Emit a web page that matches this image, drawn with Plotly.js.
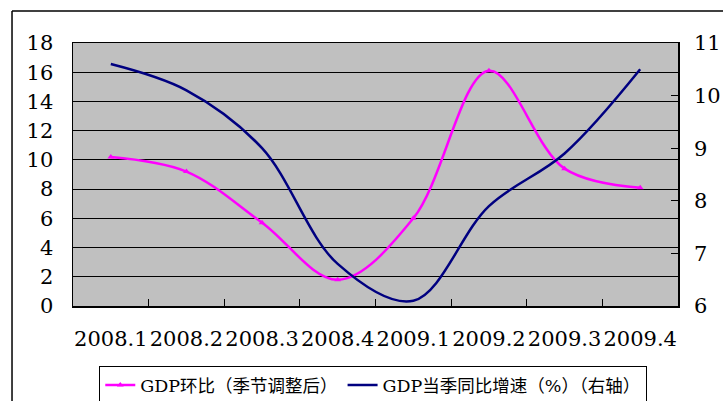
<!DOCTYPE html>
<html>
<head>
<meta charset="utf-8">
<script src="https://cdn.plot.ly/plotly-3.0.1.min.js"></script>
<style>
html,body{margin:0;padding:0;background:#fff;}
#chart{width:723px;height:401px;}
</style>
</head>
<body>
<div id="chart"></div>
<script>
const categories = ['2008.1','2008.2','2008.3','2008.4','2009.1','2009.2','2009.3','2009.4'];
const gdpQoQ = [10.2, 9.2, 5.7, 1.8, 6.0, 16.1, 9.4, 8.1];
const gdpYoY = [10.6, 10.1, 9.0, 6.8, 6.1, 7.9, 8.9, 10.5];
const leftTicks = [0,2,4,6,8,10,12,14,16,18];
const rightTicks = [6,7,8,9,10,11];
const seriesNames = ['GDP环比（季节调整后）', 'GDP当季同比增速（%）（右轴）'];

const serif = "DejaVu Serif, Noto Sans CJK SC";

const traces = [
  {
    x: categories, y: gdpQoQ, name: seriesNames[0], type: 'scatter', mode: 'lines+markers',
    line: {color: '#FF00FF', width: 2.5, shape: 'spline', smoothing: 1},
    marker: {symbol: 'triangle-up', size: 6, color: '#FF00FF'},
    yaxis: 'y'
  },
  {
    x: categories, y: gdpYoY, name: seriesNames[1], type: 'scatter', mode: 'lines',
    line: {color: '#000080', width: 2.5, shape: 'spline', smoothing: 1},
    yaxis: 'y2'
  }
];

const layout = {
  width: 723, height: 401,
  margin: {l: 73, r: 45, t: 43, b: 95},
  paper_bgcolor: '#ffffff',
  plot_bgcolor: '#C0C0C0',
  font: {family: serif, color: '#000000'},
  showlegend: true,
  xaxis: {
    type: 'category', range: [-0.5, 7.5], tickangle: 0,
    tickson: 'boundaries', ticks: 'inside', ticklen: 7, tickcolor: '#000', tickwidth: 1,
    showgrid: false, showline: true, linecolor: '#000', linewidth: 1.5, mirror: true,
    tickfont: {size: 21, family: serif, color: '#000'},
    ticklabelstandoff: 13, zeroline: false, fixedrange: true, automargin: false
  },
  yaxis: {
    range: [0, 18], tickvals: leftTicks, ticktext: leftTicks.map(String),
    ticks: 'inside', ticklen: 7, tickcolor: '#000', tickwidth: 1,
    showgrid: true, gridcolor: '#000', gridwidth: 1.2,
    showline: true, linecolor: '#000', linewidth: 1.5, mirror: true,
    zeroline: false,
    tickfont: {size: 21, family: serif, color: '#000'},
    ticklabelstandoff: 14, fixedrange: true, automargin: false
  },
  yaxis2: {
    overlaying: 'y', side: 'right', range: [6, 11],
    tickvals: rightTicks, ticktext: rightTicks.map(String),
    ticks: 'inside', ticklen: 7, tickcolor: '#000', tickwidth: 1,
    showgrid: false, zeroline: false, showline: false,
    tickfont: {size: 21, family: serif, color: '#000'},
    ticklabelstandoff: 15, fixedrange: true, automargin: false
  },
  legend: {
    orientation: 'h', xref: 'paper', x: 0.496, xanchor: 'center',
    yref: 'container', y: 0.0875, yanchor: 'top',
    bgcolor: '#ffffff', bordercolor: '#000', borderwidth: 1.2,
    font: {size: 17.5, family: serif, color: '#000'},
    itemwidth: 30, tracegroupgap: 0
  },
  shapes: [
    {type: 'line', xref: 'paper', yref: 'paper', x0: -0.1008, x1: 1.1, y0: 1.1217, y1: 1.1217,
     line: {color: '#000', width: 1.5}},
    {type: 'line', xref: 'paper', yref: 'paper', x0: -0.1008, x1: -0.1008, y0: 1.1217, y1: -0.45,
     line: {color: '#000', width: 1.5}}
  ]
};

Plotly.newPlot('chart', traces, layout, {displayModeBar: false, staticPlot: true});
</script>
</body>
</html>
